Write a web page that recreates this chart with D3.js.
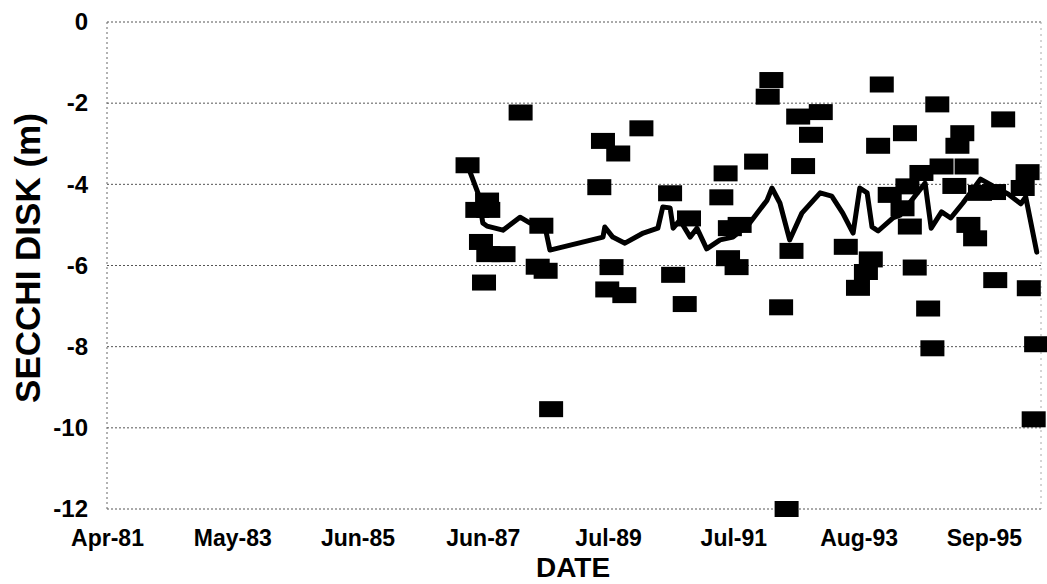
<!DOCTYPE html>
<html>
<head>
<meta charset="utf-8">
<script src="https://cdn.jsdelivr.net/npm/d3@7"></script>
<style>
  html, body { margin: 0; padding: 0; background: #fff; }
  svg { display: block; }
  text { font-family: "Liberation Sans", Arial, sans-serif; font-weight: bold; fill: #000; }
</style>
</head>
<body>
<svg id="chart" width="1047" height="584"></svg>
<script>
// ---- data (decimal years, Secchi depth in m) ----
const obsDates = [
  1987.22, 1987.38, 1987.56, 1987.54, 1987.44, 1987.56, 1987.81, 1987.49,
  1988.09, 1988.43, 1988.37, 1988.50, 1988.59,
  1989.44, 1989.69, 1990.07, 1989.38, 1989.58, 1989.51, 1989.79,
  1990.54, 1990.85, 1990.59, 1990.78,
  1991.45, 1991.38, 1991.52, 1991.68, 1991.49, 1991.63, 1991.95,
  1992.20, 1992.14, 1992.64, 1993.01, 1992.85, 1992.72, 1992.53, 1992.36, 1992.45,
  1994.01, 1994.92, 1996.00, 1994.39, 1993.95, 1995.33, 1995.25, 1994.99, 1995.40,
  1994.66, 1996.40, 1996.32, 1994.43, 1994.14, 1994.35, 1994.47, 1995.20,
  1995.43, 1995.54, 1995.62, 1995.85,
  1993.42, 1993.83, 1993.75, 1993.62, 1994.55, 1994.77, 1994.84, 1995.87,
  1996.42, 1996.54, 1996.50
];
const obsDepths = [
  -3.53, -4.63, -4.63, -4.40, -5.42, -5.72, -5.72, -6.42,
  -2.23, -5.02, -6.03, -6.13, -9.54,
  -2.93, -3.24, -2.62, -4.07, -6.04, -6.59, -6.73,
  -4.22, -4.84, -6.23, -6.95,
  -3.73, -4.32, -5.08, -5.00, -5.82, -6.04, -3.44,
  -1.43, -1.84, -2.33, -2.22, -2.78, -3.55, -5.64, -7.03, -12.0,
  -1.54, -2.03, -2.40, -2.74, -3.05, -2.74, -3.05, -3.56, -3.56,
  -3.72, -3.70, -4.09, -4.05, -4.26, -4.59, -5.04, -4.04,
  -5.00, -5.33, -4.21, -4.19,
  -5.54, -5.85, -6.16, -6.55, -6.05, -7.06, -8.04, -6.36,
  -6.56, -7.94, -9.79
];
const trendDates = [
  1987.22, 1987.39, 1987.47, 1987.54, 1987.80, 1988.08, 1988.24, 1988.49, 1988.57,
  1989.44, 1989.47, 1989.60, 1989.80, 1990.10, 1990.34, 1990.42, 1990.54, 1990.59,
  1990.70, 1990.87, 1990.98, 1991.14, 1991.36, 1991.57, 1991.82, 1992.13, 1992.21,
  1992.34, 1992.50, 1992.70, 1993.00, 1993.19, 1993.37, 1993.54, 1993.65, 1993.77,
  1993.85, 1993.95, 1994.19, 1994.31, 1994.50, 1994.72, 1994.82, 1994.99, 1995.14,
  1995.34, 1995.63, 1995.83, 1996.08, 1996.29, 1996.37, 1996.55
];
const trendDepths = [
  -3.53, -4.21, -4.95, -5.03, -5.13, -4.81, -4.95, -5.05, -5.62,
  -5.30, -5.05, -5.30, -5.45, -5.20, -5.08, -4.56, -4.58, -5.08,
  -4.88, -5.30, -5.08, -5.59, -5.37, -5.30, -5.00, -4.39, -4.09,
  -4.46, -5.37, -4.71, -4.21, -4.29, -4.71, -5.20, -4.09, -4.21,
  -5.05, -5.15, -4.83, -4.76, -4.39, -3.97, -5.08, -4.68, -4.83,
  -4.46, -3.87, -4.04, -4.24, -4.48, -4.31, -5.67
];
const xTickLabels = ["Apr-81", "May-83", "Jun-85", "Jun-87", "Jul-89", "Jul-91", "Aug-93", "Sep-95"];
const xStart = 1981.31;          // Apr-81 (first tick)
const xStepYears = 750 / 365.25; // tick spacing
const xEnd = 1996.62;
const yTicks = [0, -2, -4, -6, -8, -10, -12];
const yTickLabels = ["0", "-2", "-4", "-6", "-8", "-10", "-12"];

// ---- layout ----
const svg = d3.select("#chart");
const L = 107, R = 1041, T = 22, B = 509;

const x = d3.scaleLinear().domain([xStart, xEnd]).range([L, R]);
const y = d3.scaleLinear().domain([-12, 0]).range([B, T]);

const xTickValues = xTickLabels.map((d, i) => xStart + i * xStepYears);

// gridlines
svg.append("g")
  .selectAll("line")
  .data(yTicks)
  .join("line")
  .attr("x1", L).attr("x2", R)
  .attr("y1", d => y(d)).attr("y2", d => y(d))
  .attr("stroke", "#555")
  .attr("stroke-width", 1)
  .attr("stroke-dasharray", "2,2");

// plot border (left & right dotted)
svg.append("line").attr("x1", L).attr("x2", L).attr("y1", T).attr("y2", B)
  .attr("stroke", "#666").attr("stroke-dasharray", "2,3");
svg.append("line").attr("x1", R).attr("x2", R).attr("y1", T).attr("y2", B)
  .attr("stroke", "#aaa").attr("stroke-dasharray", "2,4");

// axes
const yAxis = d3.axisLeft(y).tickValues(yTicks).tickFormat((d, i) => yTickLabels[i]).tickSize(0).tickPadding(19);
const gy = svg.append("g").attr("transform", `translate(${L},0)`).call(yAxis);
gy.select(".domain").remove();
gy.selectAll("text").attr("font-size", 24).attr("font-family", "Liberation Sans, Arial, sans-serif").attr("font-weight", "bold").attr("fill", "#000");

const xAxis = d3.axisBottom(x).tickValues(xTickValues).tickFormat((d, i) => xTickLabels[i]).tickSize(0).tickPadding(21);
const gx = svg.append("g").attr("transform", `translate(0,${B})`).call(xAxis);
gx.select(".domain").remove();
gx.selectAll("text").attr("font-size", 23).attr("font-family", "Liberation Sans, Arial, sans-serif").attr("font-weight", "bold").attr("fill", "#000");

// axis titles
svg.append("text")
  .attr("x", 573).attr("y", 577)
  .attr("text-anchor", "middle")
  .attr("font-size", 28)
  .text("DATE");

svg.append("text")
  .attr("transform", "translate(40,258) rotate(-90)")
  .attr("text-anchor", "middle")
  .attr("font-size", 35)
  .text("SECCHI DISK (m)");

// trend line
const line = d3.line().x(d => x(d[0])).y(d => y(d[1]));
svg.append("path")
  .datum(trendDates.map((d, i) => [d, trendDepths[i]]))
  .attr("d", line)
  .attr("fill", "none")
  .attr("stroke", "#000")
  .attr("stroke-width", 5)
  .attr("stroke-linejoin", "round")
  .attr("stroke-linecap", "round");

// observation markers
const mw = 24, mh = 16;
svg.append("g")
  .selectAll("rect")
  .data(obsDates.map((d, i) => [d, obsDepths[i]]))
  .join("rect")
  .attr("x", d => x(d[0]) - mw / 2)
  .attr("y", d => y(d[1]) - mh / 2)
  .attr("width", mw)
  .attr("height", mh)
  .attr("fill", "#000");
</script>
</body>
</html>
